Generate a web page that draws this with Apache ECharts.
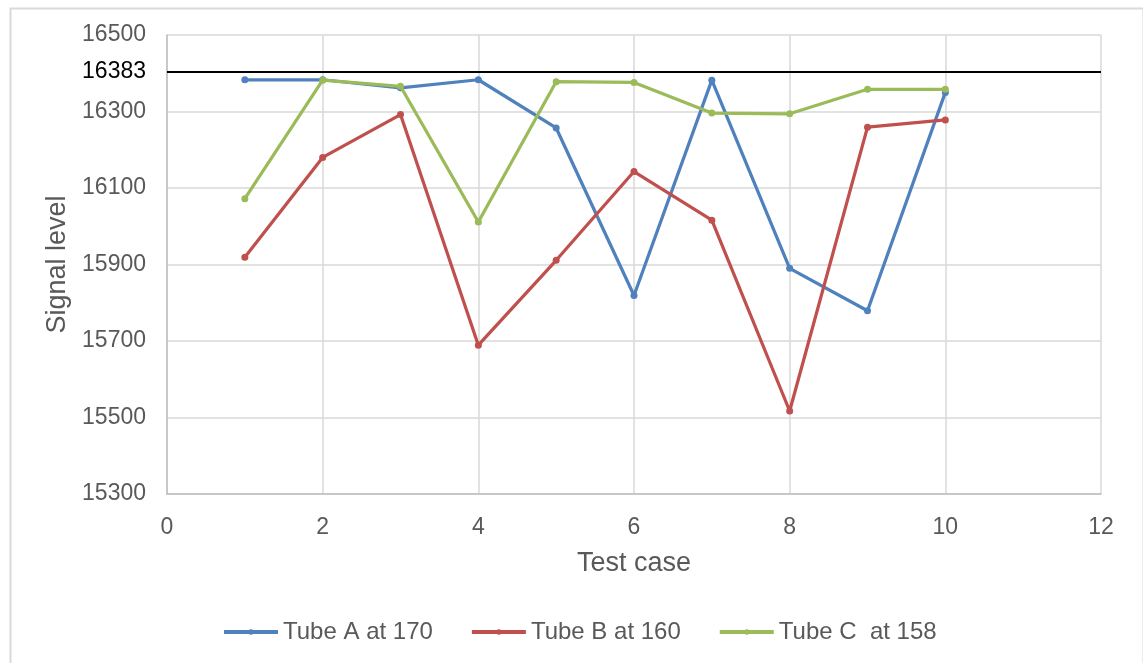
<!DOCTYPE html>
<html>
<head>
<meta charset="utf-8">
<script src="https://cdn.jsdelivr.net/npm/echarts@6/dist/echarts.min.js"></script>
<style>
html,body{margin:0;padding:0;background:#fff;}
#chart{width:1143px;height:663px;}
</style>
</head>
<body>
<div id="chart"></div>
<script>
const testCases = [1, 2, 3, 4, 5, 6, 7, 8, 9, 10];
const tubeA = [16383, 16383, 16362, 16383, 16257, 15819, 16382, 15890, 15779, 16350];
const tubeB = [15919, 16180, 16292, 15689, 15911, 16143, 16016, 15517, 16259, 16278];
const tubeC = [16072, 16382, 16366, 16011, 16378, 16376, 16296, 16294, 16358, 16358];
const seriesNames = ['Tube A at 170', 'Tube B at 160', 'Tube C  at 158'];
const seriesColors = ['#4F81BD', '#C0504D', '#9BBB59'];
const refLineLevel = 16404;   // where the drawn reference line sits
const refLineLabel = '16383';
const xTicks = {min: 0, max: 12, step: 2};
const yTicks = {min: 15300, max: 16500, step: 200};

const FONT = '"Liberation Sans", Arial, sans-serif';
const TXT = '#595959';

function pairs(vals){ return testCases.map((x,i)=>[x, vals[i]]); }

const allVals = [tubeA, tubeB, tubeC];
const series = allVals.map((vals, i) => ({
  name: seriesNames[i],
  type: 'line',
  data: pairs(vals),
  symbol: 'circle',
  symbolSize: 7,
  lineStyle: {width: 3.25, color: seriesColors[i]},
  itemStyle: {color: seriesColors[i]},
  z: 3 + i
}));
series[0].markLine = {
  silent: true,
  symbol: 'none',
  animation: false,
  lineStyle: {color: '#000', width: 2, type: 'solid'},
  label: {show: true, position: 'start', formatter: refLineLabel, color: '#000',
          fontSize: 23, fontFamily: FONT, distance: 21},
  data: [{yAxis: refLineLevel}]
};

const chart = echarts.init(document.getElementById('chart'), null, {renderer: 'canvas'});
chart.setOption({
  animation: false,
  backgroundColor: '#fff',
  textStyle: {fontFamily: FONT},
  graphic: [{
    type: 'rect', left: 8, top: 6,
    shape: {width: 1133, height: 680},
    style: {fill: 'none', stroke: '#d9d9d9', lineWidth: 2},
    silent: true
  }],
  grid: {left: 167, right: 42, top: 35, bottom: 169, containLabel: false},
  xAxis: {
    type: 'value',
    min: xTicks.min, max: xTicks.max, interval: xTicks.step,
    name: 'Test case', nameLocation: 'middle', nameGap: 56,
    nameTextStyle: {fontSize: 27, color: TXT, fontFamily: FONT},
    axisLine: {show: true, lineStyle: {color: '#bfbfbf', width: 1.5}},
    axisTick: {show: false},
    axisLabel: {fontSize: 23, color: TXT, margin: 22, fontFamily: FONT,
                formatter: v => String(v)},
    splitLine: {show: true, lineStyle: {color: '#d9d9d9', width: 1.5}}
  },
  yAxis: {
    type: 'value',
    min: yTicks.min, max: yTicks.max, interval: yTicks.step,
    name: 'Signal level', nameLocation: 'middle', nameGap: 92, nameRotate: 90,
    nameTextStyle: {fontSize: 27, color: TXT, fontFamily: FONT},
    axisLine: {show: true, lineStyle: {color: '#bfbfbf', width: 1.5}},
    axisTick: {show: false},
    axisLabel: {fontSize: 23, color: TXT, margin: 21, fontFamily: FONT,
                formatter: v => String(v)},
    splitLine: {show: true, lineStyle: {color: '#d9d9d9', width: 1.5}}
  },
  legend: {
    data: seriesNames,
    left: 217, top: 615,
    itemWidth: 54, itemHeight: 7, itemGap: 37,
    lineStyle: {width: 4},
    textStyle: {fontSize: 24, color: TXT, fontFamily: FONT}
  },
  series: series
});
</script>
</body>
</html>
